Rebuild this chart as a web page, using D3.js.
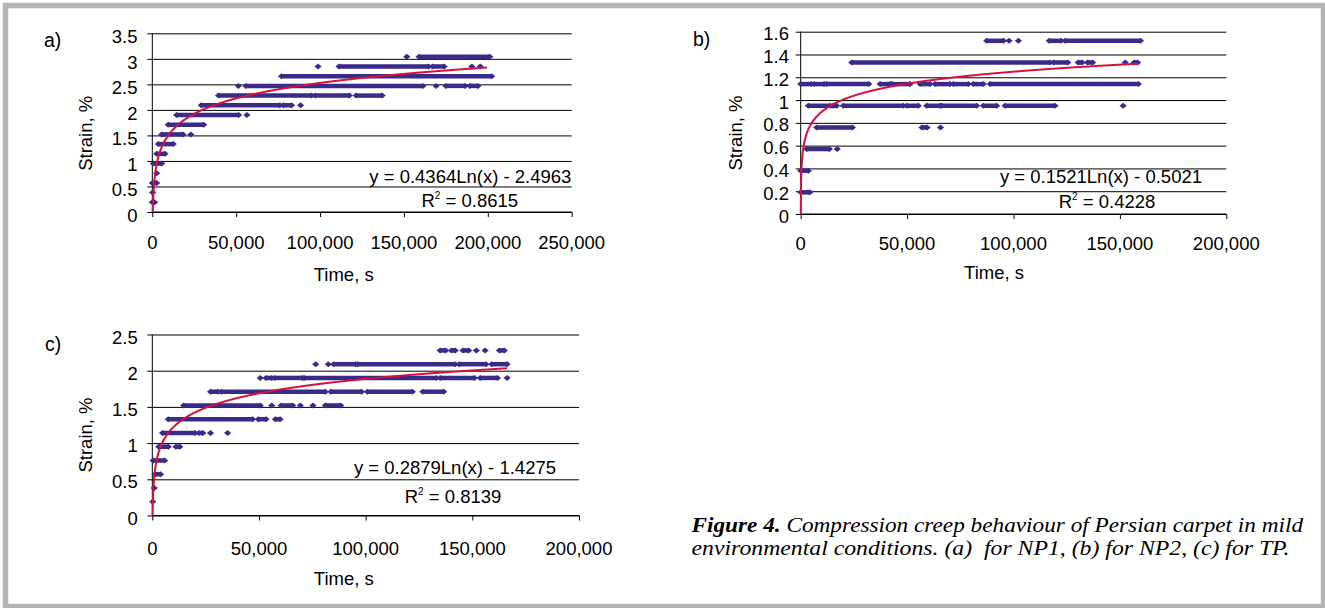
<!DOCTYPE html>
<html><head><meta charset="utf-8">
<script src="https://cdn.jsdelivr.net/npm/d3@7"></script>
<style>html,body{margin:0;padding:0;background:#fff;} svg{display:block;}</style>
</head><body>
<svg id="chart" width="1325" height="608"></svg>
<script>
// ---------------- data ----------------
const yTicksA = [0, 0.5, 1, 1.5, 2, 2.5, 3, 3.5];
const yTicksB = [0, 0.2, 0.4, 0.6, 0.8, 1, 1.2, 1.4, 1.6];
const yTicksC = [0, 0.5, 1, 1.5, 2, 2.5];
const xTicksA = [0, 50000, 100000, 150000, 200000, 250000];
const xTicksB = [0, 50000, 100000, 150000, 200000];
const xTicksC = [0, 50000, 100000, 150000, 200000];

// measured strain runs: [strain %, first time s, last time s] (single points: first == last)
const runsA = [
  [0.19, 0, 1400], [0.38, 200, 200], [0.57, 0, 2600], [0.76, 2600, 2600],
  [0.95, 600, 5600], [1.14, 2600, 7600], [1.33, 3600, 12500],
  [1.52, 5600, 18300], [1.52, 23000, 23000],
  [1.71, 9500, 30600],
  [1.90, 14500, 51500], [1.90, 56400, 56400],
  [2.09, 29200, 76000], [2.09, 78000, 83000], [2.09, 88400, 88400],
  [2.28, 39500, 95000], [2.28, 97000, 117500], [2.28, 121500, 137000],
  [2.47, 51300, 51300], [2.47, 55800, 161300], [2.47, 169200, 169200], [2.47, 175000, 186400], [2.47, 189300, 194100],
  [2.66, 77000, 202300],
  [2.85, 98800, 98800], [2.85, 111300, 164700], [2.85, 167000, 174000], [2.85, 190500, 190500], [2.85, 195500, 195500],
  [3.04, 151700, 151700], [3.04, 159000, 201200]
];
const runsB = [
  [0.19, 0, 4300], [0.38, 0, 3600],
  [0.57, 2800, 13500], [0.57, 17200, 17200],
  [0.76, 7500, 24300], [0.76, 57000, 59400], [0.76, 65700, 65700],
  [0.95, 3600, 14000], [0.95, 15200, 16900], [0.95, 20000, 48200], [0.95, 49800, 55300], [0.95, 59200, 65500],
  [0.95, 66200, 82700], [0.95, 85800, 92100], [0.95, 96000, 119500], [0.95, 151500, 151500],
  [1.14, 0, 5000], [1.14, 6300, 11000], [1.14, 12200, 32000], [1.14, 37300, 42000], [1.14, 42800, 51400],
  [1.14, 56100, 60800], [1.14, 63100, 70200], [1.14, 71700, 78800], [1.14, 81100, 85800], [1.14, 89000, 158700],
  [1.33, 24000, 117200], [1.33, 118800, 125500], [1.33, 130400, 132300], [1.33, 134800, 137200],
  [1.33, 152500, 152500], [1.33, 156700, 158300],
  [1.52, 87400, 95300], [1.52, 97900, 97900], [1.52, 102300, 102300], [1.52, 116800, 122300], [1.52, 124200, 159700]
];
const runsC = [
  [0.19, 200, 200], [0.38, 900, 900], [0.57, 1300, 3900], [0.76, 400, 5800],
  [0.95, 3000, 7500], [0.95, 11100, 12900],
  [1.14, 4800, 20100], [1.14, 21900, 23700], [1.14, 27300, 27300], [1.14, 35300, 35300],
  [1.33, 7500, 47000], [1.33, 49700, 53300], [1.33, 57700, 59900],
  [1.52, 14700, 50600], [1.52, 56000, 56000], [1.52, 60400, 65800], [1.52, 69400, 69400], [1.52, 75300, 75300], [1.52, 81100, 88300],
  [1.71, 27300, 30800], [1.71, 32300, 81100], [1.71, 83700, 98100], [1.71, 100800, 121900], [1.71, 126800, 136600],
  [1.90, 50600, 50600], [1.90, 53300, 56000], [1.90, 57400, 70300], [1.90, 71200, 133100], [1.90, 134900, 151000],
  [1.90, 153700, 161800], [1.90, 166300, 166300],
  [2.09, 76600, 76600], [2.09, 82500, 82500], [2.09, 85000, 95400], [2.09, 96300, 142000], [2.09, 143800, 156400], [2.09, 159100, 166300],
  [2.28, 134900, 137500], [2.28, 140200, 142000], [2.28, 145600, 148300], [2.28, 151900, 151900], [2.28, 156000, 156000], [2.28, 162700, 165000]
];
// logarithmic trendlines: [slope, intercept], R², last time
const fitA = [0.4364, -2.4963]; const r2A = 0.8615; const tEndA = 199600;
const fitB = [0.1521, -0.5021]; const r2B = 0.4228; const tEndB = 158700;
const fitC = [0.2879, -1.4275]; const r2C = 0.8139; const tEndC = 166300;
const panelLabels = ["a)", "b)", "c)"];
const xTitle = "Time, s";
const yTitle = "Strain, %";
const captionBold = "Figure 4.";
const captionLine1 = " Compression creep behaviour of Persian carpet in mild";
const captionLine2 = "environmental conditions. (a)  for NP1, (b) for NP2, (c) for TP.";

// ---------------- drawing ----------------
const svg = d3.select("#chart");
const FONT = "'Liberation Sans', Arial, sans-serif";
const FS = 18.5;
const DOT = "#3a2a8a";
const RED = "#d5123c";

svg.append("rect").attr("x", 0).attr("y", 0).attr("width", 1325).attr("height", 608).attr("fill", "#fff");
svg.append("rect").attr("x", 5.5).attr("y", 5.5).attr("width", 1318).attr("height", 601)
  .attr("fill", "none").attr("stroke", "#b4b4b4").attr("stroke-width", 5.5);

const panels = [
  {runs: runsA, fit: fitA, r2: r2A, tEnd: tEndA, yTicks: yTicksA, xTicks: xTicksA, label: panelLabels[0],
   left: 152.3, right: 571.7, top: 33.3, bottom: 212, labelX: 44, labelY: 46.5, yLabRight: 137.5, yLabDy: 10,
   yTitleX: 91.5, yTitleY: 133.3, xLabBase: 249, xTitleX: 343.7, xTitleBase: 280.5,
   eqRight: 571.4, eqBase: 182.5, r2X: 469.8, r2Base: 207},
  {runs: runsB, fit: fitB, r2: r2B, tEnd: tEndB, yTicks: yTicksB, xTicks: xTicksB, label: panelLabels[1],
   left: 800.7, right: 1226.3, top: 31.7, bottom: 214, labelX: 693, labelY: 46, yLabRight: 789, yLabDy: 8.5,
   yTitleX: 742, yTitleY: 133, xLabBase: 250, xTitleX: 994, xTitleBase: 278.5,
   eqRight: 1202, eqBase: 183.3, r2X: 1107, r2Base: 208.3},
  {runs: runsC, fit: fitC, r2: r2C, tEnd: tEndC, yTicks: yTicksC, xTicks: xTicksC, label: panelLabels[2],
   left: 152.3, right: 579, top: 334.5, bottom: 515.5, labelX: 45, labelY: 351, yLabRight: 137.8, yLabDy: 9,
   yTitleX: 91.8, yTitleY: 435, xLabBase: 555, xTitleX: 343.8, xTitleBase: 585,
   eqRight: 556, eqBase: 474, r2X: 453, r2Base: 503}
];

const diamond = "M0,-3L3.6,0L0,3L-3.6,0Z";
const fmt = d3.format(",");

panels.forEach(p => {
  const x = d3.scaleLinear().domain([0, p.xTicks[p.xTicks.length - 1]]).range([p.left, p.right]);
  const y = d3.scaleLinear().domain([0, p.yTicks[p.yTicks.length - 1]]).range([p.bottom, p.top]);
  const g = svg.append("g");

  // gridlines (y axis, extending as left ticks)
  const yAxis = d3.axisLeft(y).tickValues(p.yTicks).tickSize(-(p.right - p.left)).tickFormat("");
  const ya = g.append("g").attr("transform", `translate(${p.left},0)`).call(yAxis);
  ya.select(".domain").remove();
  ya.selectAll(".tick line").attr("stroke", "#000").attr("stroke-width", 1).attr("x1", -5);
  // y tick labels
  g.selectAll(".ylab").data(p.yTicks).enter().append("text")
    .attr("x", p.yLabRight).attr("y", d => y(d) + p.yLabDy)
    .attr("text-anchor", "end").attr("font-family", FONT).attr("font-size", FS).attr("fill", "#000")
    .text(d => String(d));
  // y axis line
  g.append("line").attr("x1", p.left).attr("x2", p.left).attr("y1", p.top).attr("y2", p.bottom)
    .attr("stroke", "#000").attr("stroke-width", 1);
  // x axis
  const xAxis = d3.axisBottom(x).tickValues(p.xTicks).tickSize(5).tickFormat("");
  const xa = g.append("g").attr("transform", `translate(0,${p.bottom})`).call(xAxis);
  xa.select(".domain").attr("stroke", "#000").attr("d", `M${p.left},0H${p.right}`);
  xa.selectAll(".tick line").attr("stroke", "#000");
  g.selectAll(".xlab").data(p.xTicks).enter().append("text")
    .attr("x", d => x(d)).attr("y", p.xLabBase)
    .attr("text-anchor", "middle").attr("font-family", FONT).attr("font-size", FS).attr("fill", "#000")
    .text(d => fmt(d));

  // data runs
  const runs = p.runs.filter(r => r[2] > r[1]);
  g.selectAll(".run").data(runs).enter().append("line")
    .attr("x1", d => x(d[1])).attr("x2", d => x(d[2]))
    .attr("y1", d => y(d[0])).attr("y2", d => y(d[0]))
    .attr("stroke", DOT).attr("stroke-width", 4.5);
  const ends = [];
  p.runs.forEach(r => { ends.push([r[0], r[1]]); if (r[2] > r[1]) ends.push([r[0], r[2]]); });
  g.selectAll(".pt").data(ends).enter().append("path")
    .attr("d", diamond).attr("fill", DOT)
    .attr("transform", d => `translate(${x(d[1])},${y(d[0])})`);

  // trendline
  const a = p.fit[0], b = p.fit[1];
  const t0 = Math.exp(-b / a);
  const px0 = x(t0), px1 = x(p.tEnd);
  const pts = d3.range(px0, px1, 0.25).concat([px1]).map(px => {
    const t = x.invert(px);
    return [t, a * Math.log(t) + b];
  });
  g.append("path").datum(pts)
    .attr("d", d3.line().x(d => x(d[0])).y(d => y(Math.max(0, d[1]))))
    .attr("fill", "none").attr("stroke", RED).attr("stroke-width", 2);

  // equation and R²
  g.append("text").attr("x", p.eqRight).attr("y", p.eqBase).attr("text-anchor", "end")
    .attr("font-family", FONT).attr("font-size", FS).attr("fill", "#000")
    .text(`y = ${a.toFixed(4)}Ln(x) - ${Math.abs(b).toFixed(4)}`);
  const rt = g.append("text").attr("x", p.r2X).attr("y", p.r2Base).attr("text-anchor", "middle")
    .attr("font-family", FONT).attr("font-size", FS).attr("fill", "#000");
  rt.append("tspan").text("R");
  rt.append("tspan").attr("font-size", 10).attr("dy", -8).text("2");
  rt.append("tspan").attr("dy", 8).text(` = ${p.r2.toFixed(4)}`);

  // titles
  g.append("text").attr("x", p.xTitleX).attr("y", p.xTitleBase).attr("text-anchor", "middle")
    .attr("font-family", FONT).attr("font-size", FS).attr("fill", "#000").text(xTitle);
  g.append("text").attr("transform", `translate(${p.yTitleX},${p.yTitleY}) rotate(-90)`)
    .attr("text-anchor", "middle").attr("font-family", FONT).attr("font-size", FS).attr("fill", "#000").text(yTitle);
  g.append("text").attr("x", p.labelX).attr("y", p.labelY)
    .attr("font-family", FONT).attr("font-size", 19.5).attr("fill", "#000").text(p.label);
});

// caption
const SERIF = "'Liberation Serif', 'Times New Roman', serif";
const c1 = svg.append("text").attr("x", 691.5).attr("y", 532).attr("font-family", SERIF)
  .attr("font-size", 21).attr("font-style", "italic").attr("fill", "#000")
  .attr("textLength", 611.6).attr("lengthAdjust", "spacingAndGlyphs");
c1.append("tspan").attr("font-weight", "bold").text(captionBold);
c1.append("tspan").text(captionLine1);
svg.append("text").attr("x", 691.5).attr("y", 555).attr("font-family", SERIF)
  .attr("font-size", 21).attr("font-style", "italic").attr("fill", "#000")
  .attr("textLength", 598).attr("lengthAdjust", "spacingAndGlyphs")
  .attr("xml:space", "preserve").style("white-space", "pre")
  .text(captionLine2);
</script>
</body></html>
